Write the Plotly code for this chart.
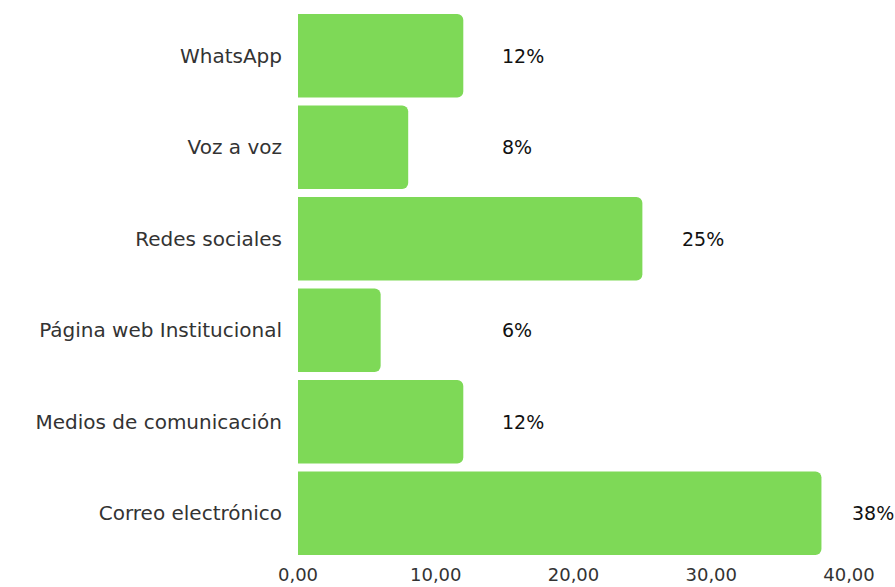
import plotly.graph_objects as go

categories = ["WhatsApp", "Voz a voz", "Redes sociales", "Página web Institucional",
              "Medios de comunicación", "Correo electrónico"]
values = [12, 8, 25, 6, 12, 38]
labels = ["12%", "8%", "25%", "6%", "12%", "38%"]
tick_vals = [0, 10, 20, 30, 40]

FONT = "DejaVu Sans"
X_MAX = 40
PX_PER_UNIT = (895 - 298 - 46) / X_MAX

fig = go.Figure()
fig.add_trace(go.Bar(
    x=values, y=categories, orientation="h",
    marker=dict(color="#7ED957", cornerradius=6, line=dict(width=0)),
    hoverinfo="skip",
))

for c, v, t in zip(categories, values, labels):
    x_want = min(max(v, 12) + 2.7, 40.1)
    x_anchor = min(x_want, X_MAX)
    fig.add_annotation(x=x_anchor, y=c, text=t, showarrow=False, xanchor="left",
                       xshift=(x_want - x_anchor) * PX_PER_UNIT,
                       font=dict(family=FONT, size=19, color="#111111"))

fig.update_layout(
    width=895, height=587,
    margin=dict(l=298, r=46, t=10, b=28, autoexpand=False),
    plot_bgcolor="white", paper_bgcolor="white",
    separators=",.",
    bargap=0.085,
    showlegend=False,
    font=dict(family=FONT, color="#333333"),
)
fig.update_xaxes(range=[0, X_MAX], tickvals=tick_vals, tickformat=".2f",
                 showgrid=False, zeroline=False, showline=False, automargin=False,
                 ticklabelstandoff=3,
                 tickfont=dict(size=18, color="#333333"), ticks="")
fig.update_yaxes(categoryorder="array", categoryarray=categories[::-1],
                 showgrid=False, zeroline=False, showline=False, ticks="",
                 automargin=False, ticklabelstandoff=15,
                 tickfont=dict(size=20, color="#333333"))

fig.write_html("out.html", config={"displayModeBar": False},
               post_script="document.body.style.margin='0';document.body.style.overflow='hidden';")
